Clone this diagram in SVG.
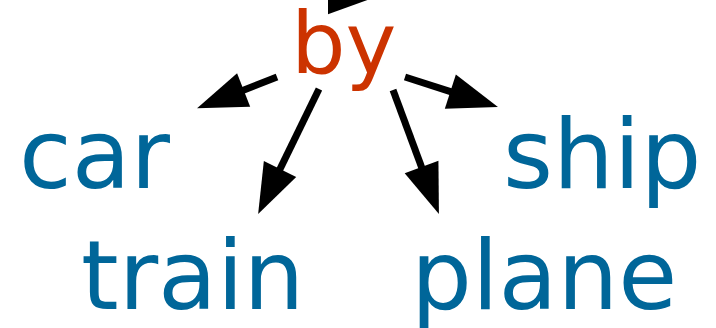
<svg xmlns="http://www.w3.org/2000/svg" width="716" height="328" viewBox="0 0 716 328">
  <style>
    .lbl { font-family: "DejaVu Sans", Verdana, sans-serif; font-size: 96px; fill: #006699; }
    .root { font-family: "DejaVu Sans", Verdana, sans-serif; font-size: 86px; fill: #cc3300; }
    .edge { stroke: #000; stroke-width: 7; fill: none; stroke-linecap: butt; marker-end: url(#head); }
  </style>
  <defs>
    <marker id="head" markerUnits="userSpaceOnUse" viewBox="0 -18 50 36" markerWidth="50" markerHeight="36" refX="1" refY="0" orient="auto" overflow="visible">
      <path d="M0,-18 L50,0 L0,18 Z" fill="#000"/>
    </marker>
  </defs>
  <rect width="716" height="328" fill="#fff"/>
  <g id="connectors">
    <line class="edge" x1="150" y1="-3.8" x2="329" y2="-3.8"/>
    <line class="edge" x1="277" y1="77" x2="242.7" y2="90.4"/>
    <line class="edge" x1="319" y1="89" x2="279.6" y2="169.9"/>
    <line class="edge" x1="393" y1="90" x2="421.9" y2="168"/>
    <line class="edge" x1="405" y1="77" x2="451.3" y2="91.9"/>
  </g>
  <g id="node-by"><text class="root" x="291" y="73">by</text></g>
  <g id="node-car"><text class="lbl" x="19" y="188">car</text></g>
  <g id="node-ship"><text class="lbl" x="503" y="188">ship</text></g>
  <g id="node-train"><text class="lbl" x="81" y="309">train</text></g>
  <g id="node-plane"><text class="lbl" x="411" y="309">plane</text></g>
</svg>
